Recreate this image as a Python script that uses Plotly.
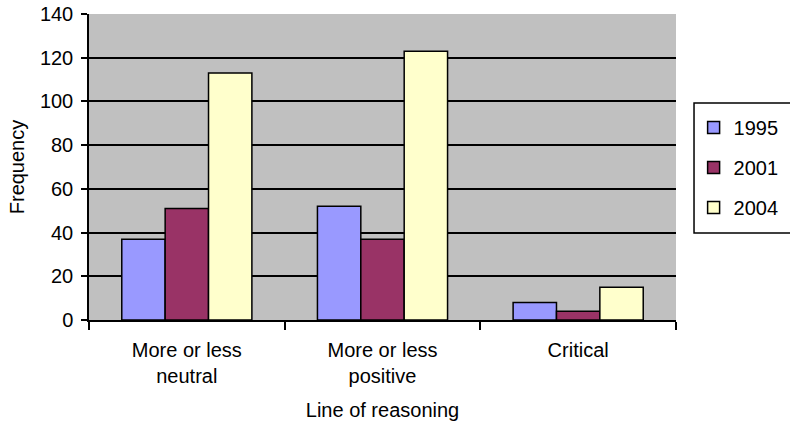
import plotly.graph_objects as go

categories = ["More or less<br>neutral", "More or less<br>positive", "Critical"]
series_names = ["1995", "2001", "2004"]
values_1995 = [37, 52, 8]
values_2001 = [51, 37, 4]
values_2004 = [113, 123, 15]
colors = ["#9999FF", "#993366", "#FFFFCC"]

FONT = "Liberation Sans, Arial, sans-serif"
FS = 20

fig = go.Figure()
for name, vals, col in zip(series_names, [values_1995, values_2001, values_2004], colors):
    fig.add_trace(go.Bar(
        x=categories, y=vals, name=name, legendgroup=name,
        marker=dict(color=col, line=dict(color="black", width=1.5)),
    ))

fig.update_layout(
    width=790, height=429,
    margin=dict(l=89, r=114, t=14, b=109, autoexpand=False),
    paper_bgcolor="white",
    plot_bgcolor="#C0C0C0",
    barmode="group",
    bargap=0.335,
    bargroupgap=0,
    font=dict(family=FONT, size=FS, color="black"),
    legend=dict(
        x=1.03, y=0.693, xanchor="left", yanchor="top",
        borderwidth=0, bgcolor="rgba(0,0,0,0)",
        font=dict(size=FS), tracegroupgap=11,
        itemwidth=30,
    ),
    showlegend=True,
    shapes=[dict(
        type="rect", xref="paper", yref="paper",
        x0=1.0307, x1=1.3, y0=0.284, y1=0.709,
        line=dict(color="black", width=1.5), fillcolor="white", layer="below",
    )],
)
fig.update_xaxes(
    showline=True, linecolor="black", linewidth=1.5,
    ticks="outside", ticklen=8, tickcolor="black", tickwidth=1.5,
    tickson="boundaries",
    ticklabelstandoff=11,
    automargin=False,
    title=dict(text="Line of reasoning", font=dict(size=FS), standoff=17),
    tickfont=dict(size=FS),
)
fig.update_yaxes(
    range=[0, 140], dtick=20,
    showline=True, linecolor="black", linewidth=1.5,
    ticks="outside", ticklen=6, tickcolor="black", tickwidth=1.5,
    ticklabelstandoff=4,
    ticklabeloverflow="allow",
    automargin=False,
    showgrid=True, gridcolor="black", gridwidth=1.5,
    zeroline=False,
    title=dict(text="Frequency", font=dict(size=FS), standoff=10),
    tickfont=dict(size=FS),
)
fig.write_html(
    "out.html",
    config={"displayModeBar": False},
    post_script="document.body.style.margin='0';document.body.style.overflow='hidden';",
)
